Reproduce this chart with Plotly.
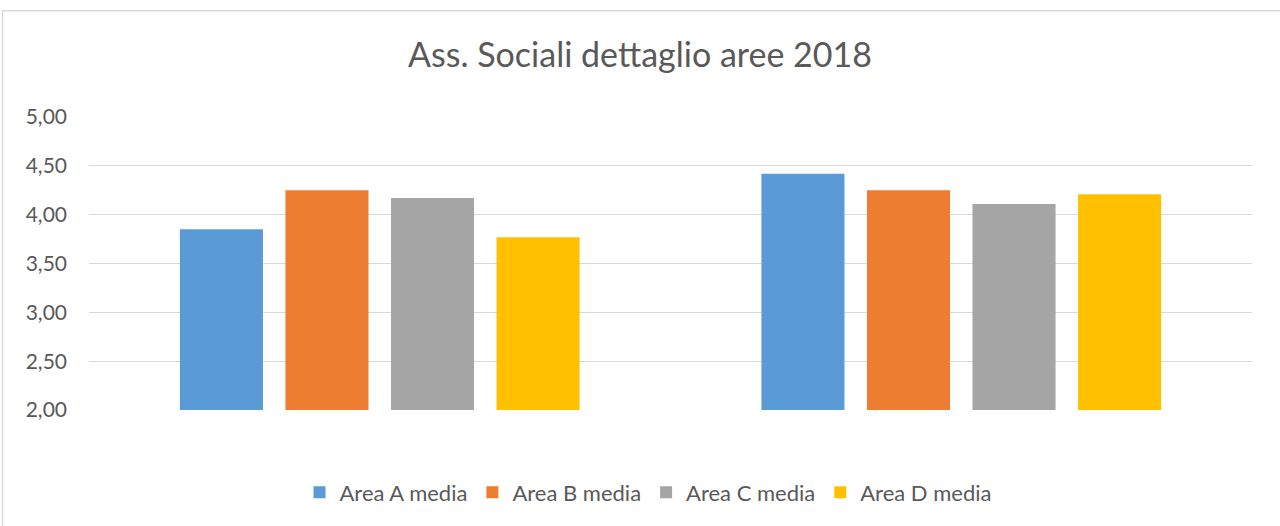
import plotly.graph_objects as go

categories = ["Gruppo 1", "Gruppo 2"]
series_names = ["Area A media", "Area B media", "Area C media", "Area D media"]
area_a = [3.85, 4.42]
area_b = [4.25, 4.25]
area_c = [4.17, 4.11]
area_d = [3.77, 4.21]
colors = ["#5B9BD5", "#ED7D31", "#A5A5A5", "#FFC000"]
title_text = "Ass. Sociali dettaglio aree 2018"

FONT = "Lato, 'Noto Sans', sans-serif"

fig = go.Figure()
for name, vals, col in zip(series_names, [area_a, area_b, area_c, area_d], colors):
    fig.add_trace(go.Bar(x=categories, y=[v - 2 for v in vals], base=2, name=name,
                         marker=dict(color=col, line=dict(width=0)),
                         hovertext=[f"{v:.2f}" for v in vals]))

L, R, T, B = 89, 28, 117, 114
W, H = 1280, 526
pw = W - L - R
ph = H - T - B

fig.update_layout(
    width=W, height=H,
    margin=dict(l=L, r=R, t=T, b=B),
    paper_bgcolor="white", plot_bgcolor="white",
    separators=",.",
    barmode="group", bargap=0.274, bargroupgap=0.213,
    font=dict(family=FONT, color="#595959", size=16),
    title=dict(text=title_text, x=0.5, xanchor="center", y=1 - 55 / H, yanchor="middle",
               font=dict(family=FONT, size=34, color="#595959")),
    showlegend=True,
    legend=dict(orientation="h", x=(648 - L) / pw, xanchor="center",
                y=(T + ph - 495) / ph, yanchor="middle",
                font=dict(family=FONT, size=22, color="#595959"),
                itemwidth=30, traceorder="normal"),
    xaxis=dict(showticklabels=False, showgrid=False, zeroline=False, showline=False,
               ticks=""),
    yaxis=dict(range=[2, 5], dtick=0.5, tick0=2, tickformat=".2f",
               showgrid=True, gridcolor="#D9D9D9", gridwidth=1.3,
               zeroline=False, showline=False, ticks="", ticklabelstandoff=21,
               tickfont=dict(family=FONT, size=21, color="#595959")),
)

# outer chart border
fig.add_shape(type="rect", xref="paper", yref="paper",
              x0=(2.5 - L) / pw, x1=(W + 20 - L) / pw,
              y0=(T + ph - (H + 20)) / ph, y1=(T + ph - 10) / ph,
              line=dict(color="#D9D9D9", width=1.3), fillcolor="rgba(0,0,0,0)", layer="below")

fig.write_html("out.html", config={"displayModeBar": False},
               post_script="document.body.style.margin='0';document.body.style.overflow='hidden';")
